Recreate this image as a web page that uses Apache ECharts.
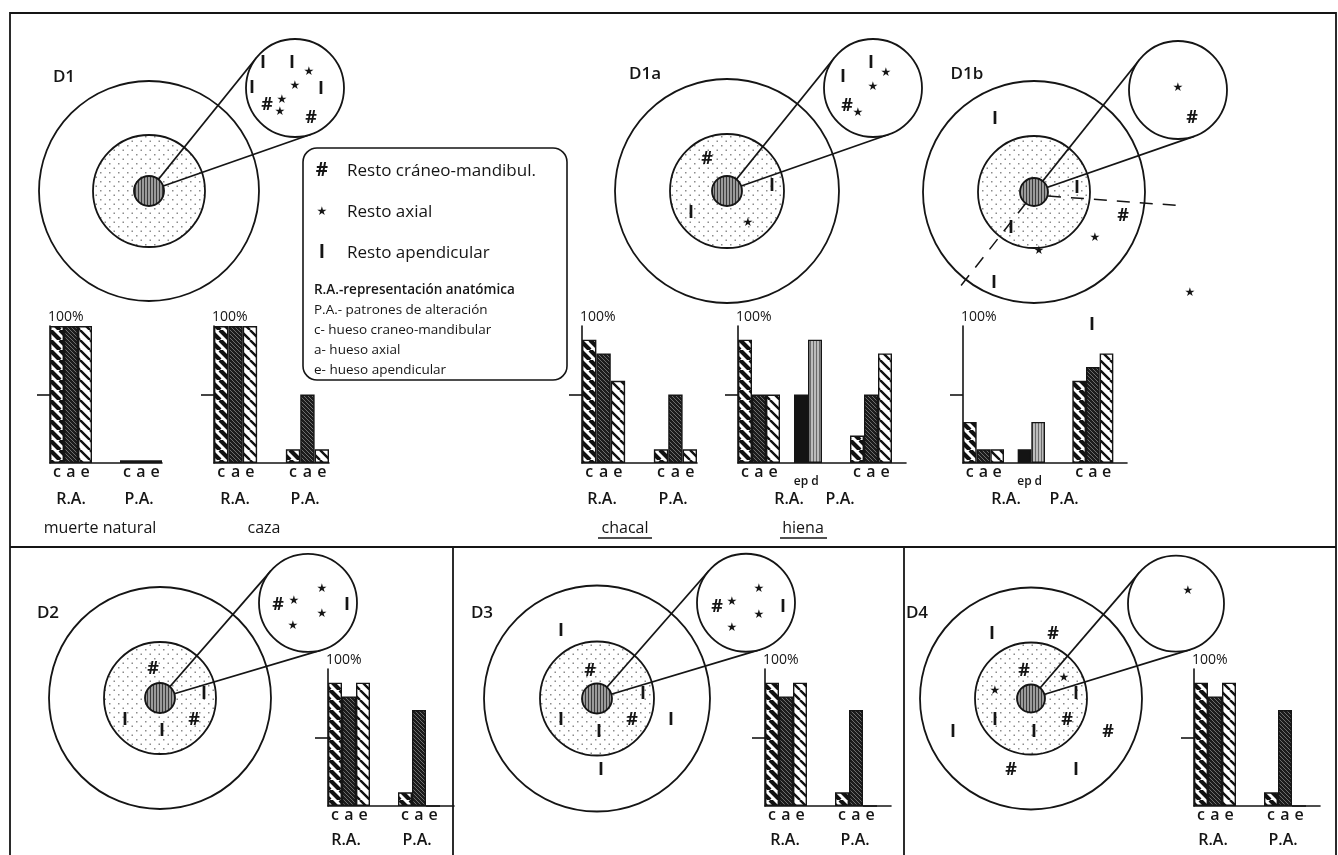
<!DOCTYPE html>
<html>
<head>
<meta charset="utf-8">
<title>Dispersión de restos D1-D4</title>
<script src="https://cdn.jsdelivr.net/npm/echarts@6.0.0/dist/echarts.min.js"></script>
<style>
  html, body { margin: 0; background: #fff; }
  #chart { width: 1338px; height: 855px; }
</style>
</head>
<body>
<div id="chart"></div>
<script>
// rings of each site: [x, y, radius] in px offsets from the core (y up)
// order: outer ring, dotted ring, core, zoom circle
const ringKinds = ['outer', 'inner', 'core', 'zoom'];
const d1Rings  = [[0, 0, 110], [0, 0, 56], [0, 0, 15], [146, 103, 49]];
const d1aRings = [[0, 0, 112], [0, 0, 57], [0, 0, 15], [146, 103, 49]];
const d1bRings = [[0, 0, 111], [0, 0, 56], [0, 0, 14], [144, 102, 49]];
const d2Rings  = [[0, 0, 111], [0, 0, 56], [0, 0, 15], [148, 103, 49]];
const d3Rings  = [[0, 0, 113], [0, 0, 57], [0, 0, 15], [149, 104, 49]];
const d4Rings  = [[0, 0, 111], [0, 0, 56], [0, 0, 14], [145, 103, 48]];

// remains: [x, y, type]  # craneo-mandibular, * axial, I apendicular
const d1Marks = [[114, 128, 'I'], [143, 128, 'I'], [160, 119, '*'], [146, 105, '*'], [103, 103, 'I'],
  [172, 102, 'I'], [118, 86, '#'], [133, 91, '*'], [131, 79, '*'], [162, 73, '#']];
const d1aMarks = [[116, 114, 'I'], [144, 128, 'I'], [159, 118, '*'], [146, 104, '*'], [120, 85, '#'],
  [131, 78, '*'], [-20, 32, '#'], [45, 5, 'I'], [-36, -22, 'I'], [21, -32, '*']];
const d1bMarks = [[144, 104, '*'], [158, 74, '#'], [-39, 73, 'I'], [43, 4, 'I'], [89, -24, '#'],
  [61, -46, '*'], [5, -59, '*'], [-23, -36, 'I'], [-40, -91, 'I'], [156, -101, '*'], [58, -133, 'I']];
const d2Marks = [[118, 101, '#'], [134, 105, '*'], [162, 118, '*'], [162, 91, '*'], [133, 78, '*'],
  [187, 101, 'I'], [-7, 32, '#'], [44, 4, 'I'], [-35, -24, 'I'], [2, -36, 'I'], [34, -24, '#']];
const d3Marks = [[120, 100, '#'], [135, 105, '*'], [162, 119, '*'], [162, 91, '*'], [135, 77, '*'],
  [186, 100, 'I'], [-36, 74, 'I'], [-7, 30, '#'], [46, 5, 'I'], [-36, -23, 'I'], [2, -36, 'I'],
  [35, -23, '#'], [74, -23, 'I'], [4, -77, 'I']];
const d4Marks = [[157, 117, '*'], [-39, 70, 'I'], [22, 70, '#'], [-7, 30, '#'], [33, 22, '*'],
  [-36, 8, '*'], [45, 5, 'I'], [-36, -23, 'I'], [36, -23, '#'], [3, -36, 'I'], [-78, -36, 'I'],
  [77, -36, '#'], [-20, -78, '#'], [45, -78, 'I']];

// D1b dispersal directions (dashed)
const d1bDashA = [[14, -4], [151, -14]];
const d1bDashB = [[-8, -11], [-78, -100]];

// bar charts: % per bone group (c craneo-mandibular, a axial, e apendicular, ep/d)
const cats8  = ['c', 'a', 'e', '', '', 'c', 'a', 'e'];
const cats9  = ['c', 'a', 'e', '', '', 'c', 'a', 'e', ''];
const cats12 = ['c', 'a', 'e', '', 'ep', 'd', '', '', 'c', 'a', 'e', ''];
const muerteVals = [100, 100, 100, null, null, 2, 2, 2];
const cazaVals   = [100, 100, 100, null, null, 10, 50, 10];
const chacalVals = [90, 80, 60, null, null, 10, 50, 10];
const hienaVals  = [90, 50, 50, null, 50, 90, null, null, 20, 50, 80, null];
const d1bVals    = [30, 10, 10, null, 10, 30, null, null, 60, 70, 80, null];
const d2Vals     = [90, 80, 90, null, null, 10, 70, 0, null];
const d3Vals     = [90, 80, 90, null, null, 10, 70, 0, null];
const d4Vals     = [90, 80, 90, null, null, 10, 70, 0, null];

const FONT = "'Open Sans', 'DejaVu Sans', sans-serif";
const INK = '#151515';

function stripes(bg, fg, p, lw) {
  const c = document.createElement('canvas');
  c.width = p; c.height = p;
  const g = c.getContext('2d');
  g.fillStyle = bg; g.fillRect(0, 0, p, p);
  g.strokeStyle = fg; g.lineWidth = lw;
  g.beginPath();
  for (const k of [-p, 0, p]) { g.moveTo(k, 0); g.lineTo(k + p, p); }
  g.stroke();
  return { image: c, repeat: 'repeat' };
}
function vlines(bg, fg, p, lw) {
  const c = document.createElement('canvas');
  c.width = p; c.height = p;
  const g = c.getContext('2d');
  g.fillStyle = bg; g.fillRect(0, 0, p, p);
  g.fillStyle = fg; g.fillRect(0, 0, lw, p);
  return { image: c, repeat: 'repeat' };
}
function dots() {
  const c = document.createElement('canvas');
  c.width = 9; c.height = 9;
  const g = c.getContext('2d');
  g.fillStyle = '#fff'; g.fillRect(0, 0, 9, 9);
  g.fillStyle = '#8c8c8c';
  g.fillRect(1, 1, 1.5, 1.5); g.fillRect(5.5, 5.5, 1.5, 1.5);
  return { image: c, repeat: 'repeat' };
}

const barFill = {
  c: stripes('#fff', '#111', 10, 4.2),
  a: stripes('#1c1c1c', '#6e6e6e', 4, 1),
  e: stripes('#fff', '#111', 10, 2.4),
  ep: '#141414',
  d: vlines('#bdbdbd', '#6c6c6c', 3, 1)
};
const ringFill = { outer: '#fff', inner: dots(), core: vlines('#9a9a9a', '#3a3a3a', 3, 1), zoom: '#fff' };

const sites = [
  { label: 'D1',  cx: 149,  cy: 191, rings: d1Rings,  marks: d1Marks },
  { label: 'D1a', cx: 727,  cy: 191, rings: d1aRings, marks: d1aMarks },
  { label: 'D1b', cx: 1034, cy: 192, rings: d1bRings, marks: d1bMarks },
  { label: 'D2',  cx: 160,  cy: 711, rings: d2Rings,  marks: d2Marks },
  { label: 'D3',  cx: 597,  cy: 712, rings: d3Rings,  marks: d3Marks },
  { label: 'D4',  cx: 1031, cy: 712, rings: d4Rings,  marks: d4Marks }
];

const bars = [
  { cats: cats8,  vals: muerteVals, box: [50, 326, 112, 137] },
  { cats: cats8,  vals: cazaVals,   box: [214, 326, 115, 137] },
  { cats: cats8,  vals: chacalVals, box: [582, 326, 115, 137] },
  { cats: cats12, vals: hienaVals,  box: [738, 326, 168, 137] },
  { cats: cats12, vals: d1bVals,    box: [963, 326, 164, 137] },
  { cats: cats9,  vals: d2Vals,     box: [328, 669, 126, 137] },
  { cats: cats9,  vals: d3Vals,     box: [765, 669, 126, 137] },
  { cats: cats9,  vals: d4Vals,     box: [1194, 669, 126, 137] }
];

const glyph = {
  '#': { text: '#', fontSize: 18, fontWeight: 'bold', fontFamily: FONT },
  '*': { text: '★', fontSize: 12, fontWeight: 'normal', fontFamily: 'DejaVu Sans' },
  'I': { text: 'I', fontSize: 18, fontWeight: 'bold', fontFamily: FONT }
};

const grid = [], xAxis = [], yAxis = [], series = [];

function ringRender(kinds) {
  return function (params, api) {
    const k = kinds[params.dataIndex];
    const c = api.coord([api.value(0), api.value(1)]);
    const r = api.size([api.value(2), 0])[0];
    return { type: 'circle', shape: { cx: c[0], cy: c[1], r: r },
      style: { fill: ringFill[k], stroke: INK, lineWidth: 1.8 } };
  };
}

sites.forEach(function (s, i) {
  grid.push({ left: s.cx - 130, top: s.cy - 170, width: 340, height: 340 });
  xAxis.push({ type: 'value', gridIndex: i, min: -130, max: 210, show: false });
  yAxis.push({ type: 'value', gridIndex: i, min: -170, max: 170, show: false });
  const base = { type: 'custom', coordinateSystem: 'cartesian2d', xAxisIndex: i, yAxisIndex: i, silent: true };
  series.push(Object.assign({}, base, {
    z: 2, data: s.rings.slice(0, 2), renderItem: ringRender(ringKinds.slice(0, 2))
  }));
  series.push(Object.assign({}, base, {
    z: 3, data: [s.rings[3]],
    renderItem: function (params, api) {
      const p = api.coord([0, 0]);
      const q = api.coord([api.value(0), api.value(1)]);
      const r = api.size([api.value(2), 0])[0];
      const dx = q[0] - p[0], dy = q[1] - p[1];
      const d = Math.hypot(dx, dy), a = Math.atan2(dy, dx), t = Math.asin(r / d);
      const L = Math.sqrt(d * d - r * r);
      const seg = function (ang) {
        return { type: 'line', shape: { x1: p[0], y1: p[1], x2: p[0] + L * Math.cos(ang), y2: p[1] + L * Math.sin(ang) },
          style: { stroke: INK, lineWidth: 1.8 } };
      };
      return { type: 'group', children: [seg(a - t), seg(a + t)] };
    }
  }));
  series.push(Object.assign({}, base, {
    z: 4, data: s.rings.slice(2), renderItem: ringRender(ringKinds.slice(2))
  }));
  series.push(Object.assign({}, base, {
    z: 5, data: s.marks.map(function (m) { return [m[0], m[1]]; }),
    renderItem: function (params, api) {
      const g = glyph[s.marks[params.dataIndex][2]];
      const c = api.coord([api.value(0), api.value(1)]);
      return { type: 'text', x: c[0], y: c[1],
        style: Object.assign({ fill: INK, align: 'center', verticalAlign: 'middle' }, g) };
    }
  }));
  if (s.label === 'D1b') {
    [d1bDashA, d1bDashB].forEach(function (seg) {
      series.push({ type: 'line', xAxisIndex: i, yAxisIndex: i, z: 3, silent: true, symbol: 'none',
        data: seg, lineStyle: { color: INK, width: 1.5, type: [13, 10] } });
    });
  }
});

bars.forEach(function (b, j) {
  const i = sites.length + j;
  grid.push({ left: b.box[0], top: b.box[1], width: b.box[2], height: b.box[3] });
  xAxis.push({
    type: 'category', gridIndex: i, data: b.cats,
    axisLine: { lineStyle: { color: INK, width: 1.6 } },
    axisTick: { show: false },
    axisLabel: {
      interval: 0, margin: 1, color: INK, fontSize: 16, fontWeight: 600, fontFamily: FONT,
      formatter: function (v) { return (v === 'ep' || v === 'd') ? '{s|' + v + '}' : v; },
      rich: { s: { fontSize: 12, fontWeight: 600, fontFamily: FONT, color: INK, padding: [12, 0, 0, 0] } }
    }
  });
  yAxis.push({
    type: 'value', gridIndex: i, min: 0, max: 100, interval: 50,
    name: '100%', nameLocation: 'end', nameGap: 2,
    nameTextStyle: { color: INK, fontSize: 14, fontFamily: FONT, align: 'left', verticalAlign: 'bottom', padding: [0, 0, 0, -2] },
    axisLine: { show: true, lineStyle: { color: INK, width: 1.6 } },
    axisTick: { show: true, customValues: [50], length: 13, lineStyle: { color: INK, width: 1.6 } },
    axisLabel: { show: false },
    splitLine: { show: false }
  });
  series.push({
    type: 'bar', xAxisIndex: i, yAxisIndex: i, z: 3, silent: true,
    barCategoryGap: '0%',
    data: b.cats.map(function (c, k) {
      const v = b.vals[k];
      if (v == null) return '-';
      return { value: v, itemStyle: { color: barFill[c], borderColor: INK, borderWidth: 1.4 } };
    })
  });
});

function txt(text, x, y, size, extra) {
  return { type: 'text', x: x, y: y, silent: true,
    style: Object.assign({ text: text, fontSize: size, fontFamily: FONT, fill: INK,
      align: 'center', verticalAlign: 'middle' }, extra || {}) };
}
function ln(x1, y1, x2, y2, w) {
  return { type: 'line', silent: true, shape: { x1: x1, y1: y1, x2: x2, y2: y2 },
    style: { stroke: INK, lineWidth: w || 1.6 } };
}

const graphic = [
  { type: 'rect', silent: true, shape: { x: 10, y: 13, width: 1326, height: 850 },
    style: { fill: 'none', stroke: INK, lineWidth: 1.8 } },
  ln(10, 547, 1336, 547, 1.8), ln(453, 547, 453, 855, 1.8), ln(904, 547, 904, 855, 1.8),
  { type: 'rect', silent: true, shape: { x: 303, y: 148, width: 264, height: 232, r: 14 },
    style: { fill: '#fff', stroke: INK, lineWidth: 1.6 } },
  txt('#', 322, 171, 19, { fontWeight: 'bold' }),
  txt('Resto cráneo-mandibul.', 347, 171, 17, { align: 'left' }),
  txt('★', 322, 212, 12, { fontFamily: 'DejaVu Sans' }),
  txt('Resto axial', 347, 212, 17, { align: 'left' }),
  txt('I', 322, 253, 19, { fontWeight: 'bold' }),
  txt('Resto apendicular', 347, 253, 17, { align: 'left' }),
  txt('R.A.-representación anatómica', 314, 290, 13.5, { align: 'left', fontWeight: 600 }),
  txt('P.A.- patrones de alteración', 314, 310, 13.5, { align: 'left' }),
  txt('c- hueso craneo-mandibular', 314, 330, 13.5, { align: 'left' }),
  txt('a- hueso axial', 314, 350, 13.5, { align: 'left' }),
  txt('e- hueso apendicular', 314, 370, 13.5, { align: 'left' }),
  txt('tipo 1', 146, 282, 16)
];

sites.forEach(function (s) {
  const pos = { D1: [64, 77], D1a: [645, 74], D1b: [967, 74], D2: [48, 613], D3: [482, 613], D4: [917, 613] }[s.label];
  graphic.push(txt(s.label, pos[0], pos[1], 17, { fontWeight: 600 }));
});

[[71, 'R.A.'], [139, 'P.A.'], [235, 'R.A.'], [305, 'P.A.'], [602, 'R.A.'], [673, 'P.A.'],
 [789, 'R.A.'], [840, 'P.A.'], [1006, 'R.A.'], [1064, 'P.A.']].forEach(function (t) {
  graphic.push(txt(t[1], t[0], 499, 16, { fontWeight: 600 }));
});
[[346, 'R.A.'], [417, 'P.A.'], [785, 'R.A.'], [855, 'P.A.'], [1213, 'R.A.'], [1283, 'P.A.']].forEach(function (t) {
  graphic.push(txt(t[1], t[0], 840, 16, { fontWeight: 600 }));
});
graphic.push(txt('muerte natural', 100, 528, 16));
graphic.push(txt('caza', 264, 528, 16));
graphic.push(txt('chacal', 625, 528, 16));
graphic.push(ln(598, 538, 652, 538, 1.3));
graphic.push(txt('hiena', 803, 528, 16));
graphic.push(ln(780, 538, 827, 538, 1.3));

const chart = echarts.init(document.getElementById('chart'));
chart.setOption({
  animation: false,
  backgroundColor: '#fff',
  grid: grid,
  xAxis: xAxis,
  yAxis: yAxis,
  series: series,
  graphic: graphic
});
</script>
</body>
</html>
